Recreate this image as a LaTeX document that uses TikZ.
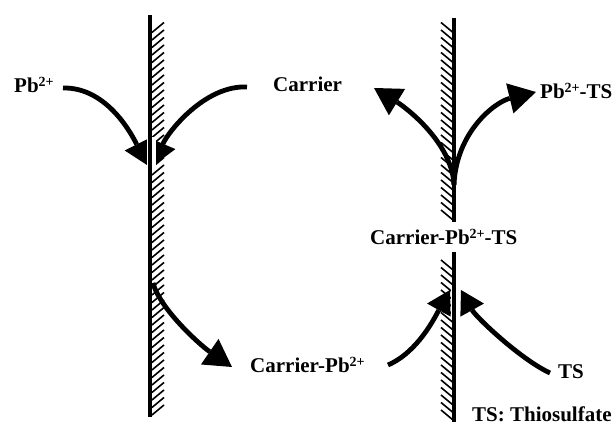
\documentclass[tikz,border=0pt]{standalone}
\usepackage{fontspec}
\setmainfont{Liberation Serif}
\usetikzlibrary{arrows.meta}
\newcommand\chg{\raisebox{6pt}{\fontsize{14}{14}\selectfont 2+}}
\begin{document}
\begin{tikzpicture}[x=1pt,y=1pt,
  lbl/.style={inner sep=0pt, anchor=base west, font=\fontsize{21}{25}\selectfont\bfseries},
  wall/.style={line width=3.5pt},
  gap/.style={white, line width=9pt},
  hatch/.style={line width=1.6pt},
  flow/.style={line width=4.8pt, -{Triangle[length=23pt,width=27pt,line width=0pt]}},
  flowb/.style={line width=4.8pt, -{Triangle[length=27pt,width=31pt,line width=0pt]}},
]
\useasboundingbox (0,0) rectangle (616,427);
% hatching
\foreach \y in {12,19.5,...,400} \draw[hatch] (152,\y) -- (164,\y+10);
\foreach \y in {207,214.5,...,398} \draw[hatch] (441,\y+10) -- (453,\y);
\foreach \y in {7,14.5,...,163} \draw[hatch] (441,\y+10) -- (453,\y);
% labels
\node[lbl] (pb) at (14,334) {Pb\chg};
\node[lbl] (carrier) at (273,335) {Carrier};
\node[lbl] (pbts) at (540,328) {Pb\chg-TS};
\node[lbl] (cpt) at (370,182) {Carrier-Pb\chg-TS};
\node[lbl] (cpb) at (250,54) {Carrier-Pb\chg};
\node[lbl] (ts) at (558,48) {TS};
\node[lbl] (tsdef) at (472,5) {TS: Thiosulfate};
% connector ends
\coordinate (a1s) at (63,339);  \coordinate (a1e) at (147,262);
\coordinate (a2s) at (247,340); \coordinate (a2e) at (154,262);
\coordinate (a3s) at (153,144); \coordinate (a3e) at (232,60);
\coordinate (fork) at (454,242);
\coordinate (a4e) at (374,339); \coordinate (a5e) at (536,335);
\coordinate (a6s) at (388,62);  \coordinate (a6e) at (450,137);
\coordinate (a7s) at (550,54);  \coordinate (a7e) at (461,137);
% arrows
\draw[flow] (a1s) .. controls (108,340) and (133,290) .. (a1e);
\draw[flow] (a2s) .. controls (205,342) and (168,295) .. (a2e);
\draw[flowb] (a3s) .. controls (160,118) and (200,82) .. (a3e);
\draw[flowb] (fork) .. controls (452,285) and (405,320) .. (a4e);
\draw[flowb] (fork) .. controls (456,295) and (495,325) .. (a5e);
\draw[flow] (a6s) .. controls (418,75) and (435,110) .. (a6e);
\draw[flow] (a7s) .. controls (520,68) and (476,110) .. (a7e);
% white gaps beside the walls where the heads meet
\draw[gap] (151,258) -- (151,290);
\draw[gap] (455.5,111) -- (455.5,140);
% walls
\draw[wall] (150,412) -- (150,10);
\draw[wall] (454,409) -- (454,205);
\draw[wall] (454,175) -- (454,5);
\end{tikzpicture}
\end{document}
